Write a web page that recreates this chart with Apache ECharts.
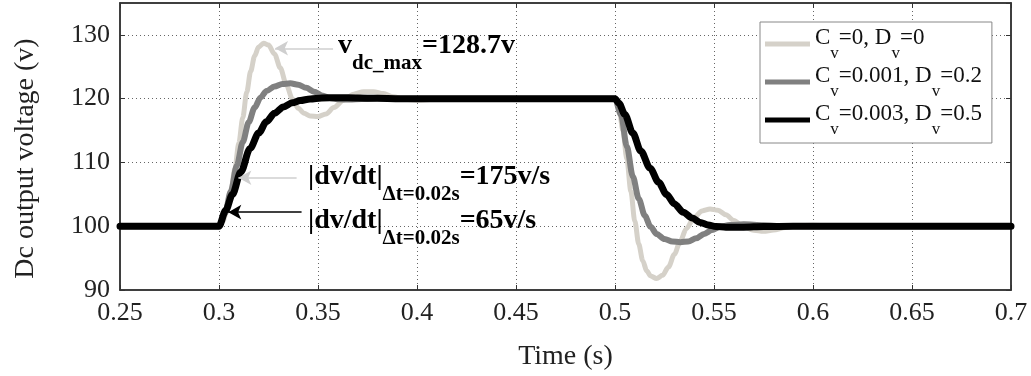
<!DOCTYPE html>
<html>
<head>
<meta charset="utf-8">
<script src="https://cdn.jsdelivr.net/npm/echarts@6/dist/echarts.min.js"></script>
<style>
html,body{margin:0;padding:0;background:#fff;}
#chart{width:1031px;height:376px;}
</style>
</head>
<body>
<div id="chart"></div>
<script>
// ---- data ----
const xTicks = [0.25, 0.3, 0.35, 0.4, 0.45, 0.5, 0.55, 0.6, 0.65, 0.7];
const yTicks = [90, 100, 110, 120, 130];

const legendC = ['0', '0.001', '0.003'];
const legendD = ['0', '0.2', '0.5'];

// Cv=0, Dv=0
const t1 = [0.25, 0.299, 0.300, 0.302, 0.304, 0.306, 0.308, 0.310, 0.312, 0.314, 0.316, 0.318, 0.320, 0.3225, 0.325, 0.328, 0.331, 0.334, 0.337, 0.340, 0.343, 0.346, 0.350, 0.354, 0.358, 0.363, 0.368, 0.373, 0.378, 0.383, 0.388, 0.394, 0.400, 0.410, 0.420, 0.499, 0.500, 0.502, 0.504, 0.506, 0.508, 0.510, 0.512, 0.514, 0.516, 0.518, 0.521, 0.524, 0.527, 0.530, 0.533, 0.536, 0.540, 0.544, 0.548, 0.552, 0.556, 0.560, 0.565, 0.570, 0.575, 0.580, 0.586, 0.592, 0.600, 0.610, 0.700];
const v1 = [100, 100, 100, 100.8, 102.5, 105.5, 109, 113, 117, 121, 124.3, 126.7, 128.1, 128.7, 128.4, 127.0, 124.8, 122.2, 120.0, 118.5, 117.7, 117.3, 117.2, 117.6, 118.6, 119.8, 120.7, 121.1, 121.1, 120.8, 120.3, 119.9, 119.75, 119.9, 120, 120, 120, 118.5, 115, 110.5, 105.5, 100.8, 97.2, 94.6, 93.0, 92.2, 91.8, 92.3, 93.6, 95.6, 97.7, 99.6, 101.4, 102.4, 102.7, 102.5, 101.8, 100.9, 99.9, 99.35, 99.2, 99.4, 99.8, 100.1, 100.15, 100, 100];

// Cv=0.001, Dv=0.2
const t2 = [0.25, 0.299, 0.300, 0.303, 0.306, 0.309, 0.312, 0.315, 0.318, 0.321, 0.324, 0.328, 0.332, 0.336, 0.340, 0.344, 0.348, 0.352, 0.356, 0.360, 0.366, 0.372, 0.380, 0.390, 0.499, 0.500, 0.503, 0.506, 0.509, 0.512, 0.515, 0.518, 0.521, 0.525, 0.529, 0.533, 0.537, 0.541, 0.545, 0.549, 0.553, 0.558, 0.565, 0.575, 0.585, 0.700];
const v2 = [100, 100, 100, 102, 105.5, 109.5, 113.2, 116.3, 118.6, 120.2, 121.2, 121.9, 122.3, 122.4, 122.2, 121.7, 121.1, 120.5, 120.1, 119.9, 119.85, 119.95, 120.05, 120, 120, 120, 117.5, 112.5, 107.8, 104.3, 101.7, 99.9, 98.8, 98.0, 97.6, 97.5, 97.6, 98.1, 98.8, 99.4, 99.9, 100.2, 100.3, 100.15, 100, 100];

// Cv=0.003, Dv=0.5
const t3 = [0.25, 0.299, 0.300, 0.3034, 0.3068, 0.311, 0.3157, 0.320, 0.324, 0.328, 0.3325, 0.337, 0.341, 0.346, 0.352, 0.360, 0.370, 0.380, 0.390, 0.499, 0.500, 0.502, 0.505, 0.509, 0.513, 0.5177, 0.522, 0.526, 0.530, 0.5345, 0.539, 0.543, 0.547, 0.551, 0.556, 0.565, 0.575, 0.590, 0.700];
const v3 = [100, 100, 100, 102.5, 105, 108.5, 112.2, 114.6, 116.4, 117.7, 118.7, 119.35, 119.7, 119.95, 120.1, 120.15, 120.1, 120.05, 120, 120, 120, 119.3, 117.5, 114.6, 111.8, 109.1, 106.9, 105.0, 103.5, 102.2, 101.3, 100.6, 100.2, 99.95, 99.85, 99.85, 99.95, 100, 100];

// annotation arrows [tail t, tail v, head t, head v]
const arrowVmax = [0.3576, 127.9, 0.3283, 127.9];
const arrow175 = [0.3392, 107.6, 0.3098, 107.6];
const arrow65 = [0.3417, 102.2, 0.3047, 102.2];

// ---- build ----
const zip = (t, v) => t.map((x, i) => [x, v[i]]);
const names = legendC.map((c, i) => 'C_v=' + c + ', D_v=' + legendD[i]);
const colors = ['#d5d1c9', '#808080', '#000000'];
const widths = [5, 6, 7];
const datasets = [zip(t1, v1), zip(t2, v2), zip(t3, v3)];

const serif = 'Liberation Serif, Times New Roman, serif';

const chart = echarts.init(document.getElementById('chart'));

function arrowLine(a, color) {
  return [
    { coord: [a[0], a[1]], lineStyle: { color: color, width: 1.5, type: 'solid' } },
    { coord: [a[2], a[3]] }
  ];
}

const series = datasets.map((d, i) => ({
  name: names[i],
  type: 'line',
  data: d,
  showSymbol: false,
  symbol: 'none',
  smooth: 0.3,
  smoothMonotone: 'x',
  color: colors[i],
  lineStyle: { color: colors[i], width: widths[i], cap: 'round', join: 'round' },
  z: 2 + i
}));

series[2].markLine = {
  silent: true,
  symbol: ['none', 'arrow'],
  symbolSize: [11, 13],
  label: { show: false },
  animation: false,
  data: [
    arrowLine(arrowVmax, '#cfcfcf'),
    arrowLine(arrow175, '#cfcfcf'),
    arrowLine(arrow65, '#000000')
  ]
};

const axisCommon = {
  type: 'value',
  axisLine: { show: true, onZero: false, lineStyle: { color: '#333', width: 1.5 } },
  axisTick: { show: true, inside: true, length: 5, lineStyle: { color: '#333', width: 1 } }
};

const annRich = {
  m: { fontFamily: serif, fontWeight: 'bold', fontSize: 28, color: '#111', verticalAlign: 'top' },
  s: { fontFamily: serif, fontWeight: 'bold', fontSize: 21, color: '#111', verticalAlign: 'top', padding: [21, 0, 0, 0] }
};

const option = {
  animation: false,
  backgroundColor: '#ffffff',
  grid: { left: 120, right: 20, top: 3, bottom: 83, show: true, borderColor: '#333', borderWidth: 1.5, backgroundColor: 'transparent' },
  xAxis: [
    Object.assign({}, axisCommon, {
      min: xTicks[0], max: xTicks[xTicks.length - 1], interval: 0.05,
      position: 'bottom',
      name: 'Time (s)', nameLocation: 'middle', nameGap: 53,
      nameTextStyle: { fontFamily: serif, fontSize: 28, color: '#222' },
      axisLabel: { fontFamily: serif, fontSize: 26, color: '#222', margin: 10,
        formatter: v => String(+v.toFixed(2)) },
      splitLine: { show: true, lineStyle: { color: '#666', width: 1, type: [1, 3] } }
    }),
    Object.assign({}, axisCommon, {
      min: xTicks[0], max: xTicks[xTicks.length - 1], interval: 0.05,
      position: 'top', axisLabel: { show: false }, splitLine: { show: false }
    })
  ],
  yAxis: [
    Object.assign({}, axisCommon, {
      min: yTicks[0], max: 135, interval: 10,
      position: 'left',
      name: 'Dc output voltage (v)', nameLocation: 'middle', nameGap: 80,
      nameTextStyle: { fontFamily: serif, fontSize: 28, color: '#222', padding: [0, 24, 0, 0] },
      axisLabel: { fontFamily: serif, fontSize: 26, color: '#222', margin: 10, showMaxLabel: false },
      splitLine: { show: true, lineStyle: { color: '#666', width: 1, type: [1, 3] } }
    }),
    Object.assign({}, axisCommon, {
      min: yTicks[0], max: 135, interval: 10,
      position: 'right', axisLabel: { show: false }, splitLine: { show: false }
    })
  ],
  legend: {
    orient: 'vertical',
    left: 760, top: 22,
    padding: [4, 10, 5, 5],
    itemGap: 2,
    itemWidth: 45, itemHeight: 5,
    icon: 'rect',
    backgroundColor: '#ffffff',
    borderColor: '#888',
    borderWidth: 1,
    borderRadius: 0,
    data: names,
    formatter: name => {
      const i = names.indexOf(name);
      return '{m|C}{s|v}{m|=' + legendC[i] + ', D}{s|v}{m|=' + legendD[i] + '}';
    },
    textStyle: {
      rich: {
        m: { fontFamily: serif, fontSize: 23, color: '#111', verticalAlign: 'top' },
        s: { fontFamily: serif, fontSize: 17, color: '#111', verticalAlign: 'top', padding: [19, 0, 0, 0] }
      }
    }
  },
  graphic: [
    { type: 'text', left: 338, top: 32, z: 100,
      style: { text: '{m|v}{s|dc_max}{m|=128.7v}', rich: annRich } },
    { type: 'text', left: 308, top: 163, z: 100,
      style: { text: '{m||dv/dt|}{s|\u0394t=0.02s}{m|=175v/s}', rich: annRich } },
    { type: 'text', left: 308, top: 207, z: 100,
      style: { text: '{m||dv/dt|}{s|\u0394t=0.02s}{m|=65v/s}', rich: annRich } }
  ],
  series: series
};

chart.setOption(option);
</script>
</body>
</html>
